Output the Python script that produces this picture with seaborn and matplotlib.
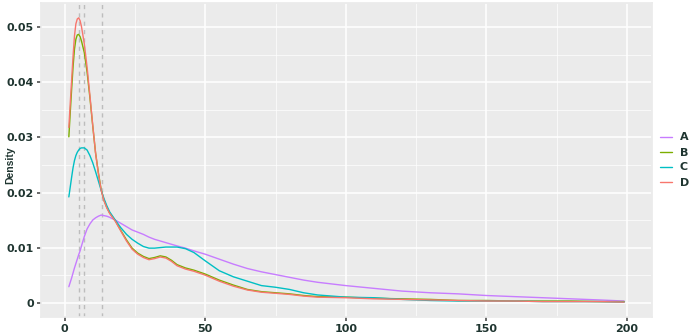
import pandas as pd
import seaborn as sns
import matplotlib.pyplot as plt
from matplotlib.ticker import MultipleLocator

# ==============================
# Values (density curves per group)
# ==============================
x_grid = [1.5, 2, 2.5, 3, 3.5, 4, 4.5, 5, 5.5, 6, 7, 8, 9, 10, 11, 12, 13, 14, 15, 16,
          18, 20, 22, 24, 26, 28, 30, 32, 34, 36, 38, 40, 43, 46, 50, 55, 60, 65, 70, 75,
          80, 85, 90, 100, 110, 120, 130, 140, 150, 160, 170, 180, 190, 199]

dens_a = [.0029, .0037, .0045, .0054, .0063, .0071, .0079, .0087, .0094, .0103, .0120, .0134,
          .0143, .0150, .0154, .0157, .0159, .0158, .0157, .0155, .0150, .0144, .0138, .0132,
          .0128, .0124, .0119, .0115, .0112, .0109, .0106, .0103, .0099, .0094, .0088, .0079,
          .0070, .0062, .0056, .0051, .0046, .0041, .0037, .0031, .0026, .0021, .0018, .0016,
          .0013, .0011, .0009, .0007, .0005, .0003]

dens_b = [.0301, .0345, .0388, .0428, .0460, .0478, .0486, .0487, .0483, .0475, .0454, .0418,
          .0372, .0321, .0272, .0236, .0205, .0186, .0173, .0163, .0149, .0131, .0114, .0099,
          .0090, .0084, .0080, .0082, .0085, .0083, .0077, .0069, .0063, .0059, .0052, .0041,
          .0032, .0024, .0020, .0018, .0016, .0013, .0011, .0010, .0008, .0007, .0006, .0004,
          .0004, .0003, .0003, .0003, .0002, .0002]

dens_c = [.0192, .0210, .0228, .0245, .0258, .0267, .0273, .0277, .0280, .0281, .0281, .0277,
          .0267, .0254, .0238, .0221, .0204, .0189, .0176, .0165, .0150, .0136, .0124, .0115,
          .0108, .0102, .0099, .0099, .0100, .0101, .0101, .0101, .0098, .0091, .0076, .0058,
          .0047, .0039, .0031, .0028, .0024, .0018, .0014, .0010, .0009, .0006, .0004, .0003,
          .0003, .0003, .0002, .0002, .0002, .0001]

dens_d = [.0318, .0362, .0405, .0447, .0484, .0506, .0515, .0517, .0512, .0501, .0470, .0427,
          .0376, .0322, .0272, .0235, .0204, .0185, .0172, .0162, .0148, .0130, .0112, .0097,
          .0088, .0082, .0078, .0080, .0083, .0081, .0075, .0067, .0061, .0057, .0050, .0039,
          .0030, .0023, .0019, .0017, .0015, .0012, .0010, .0009, .0007, .0006, .0005, .0004,
          .0003, .0003, .0002, .0002, .0002, .0001]

groups = ["A", "B", "C", "D"]
peak_x = [5, 7, 13.4]  # dashed reference lines (modes)

df = pd.concat([
    pd.DataFrame({"x": x_grid, "density": d, "group": g})
    for g, d in zip(groups, [dens_a, dens_b, dens_c, dens_d])
])

# ==============================
# ggplot-like styling
# ==============================
sns.set_theme(style="darkgrid", rc={
    "axes.facecolor": "#EBEBEB",
    "grid.color": "white",
    "axes.edgecolor": "#EBEBEB",
})
plt.rcParams["font.family"] = ["DejaVu Sans"]

palette = {"A": "#C77CFF", "B": "#7CAE00", "C": "#00BFC4", "D": "#F8766D"}
text_col = "#1F3530"

fig, ax = plt.subplots(figsize=(6.91, 3.33), dpi=100)
fig.subplots_adjust(left=41 / 691, right=652 / 691, top=1 - 3 / 333, bottom=1 - 317 / 333)

for px in peak_x:
    ax.axvline(px, color="#BDBDBD", linestyle=(0, (3, 3)), linewidth=1.0, zorder=1)

sns.lineplot(data=df, x="x", y="density", hue="group", palette=palette,
             linewidth=1.0, ax=ax, zorder=2)

ax.set_xlim(-8.4, 208.9)
ax.set_ylim(-0.0026, 0.0544)
ax.xaxis.set_major_locator(MultipleLocator(50))
ax.xaxis.set_minor_locator(MultipleLocator(25))
ax.yaxis.set_major_locator(MultipleLocator(0.01))
ax.yaxis.set_minor_locator(MultipleLocator(0.005))
ax.grid(which="major", color="white", linewidth=1.1)
ax.grid(which="minor", color="white", linewidth=0.5)
ax.yaxis.set_major_formatter(plt.FuncFormatter(lambda v, _: "0" if abs(v) < 1e-9 else f"{v:.2f}"))

ax.tick_params(axis="both", which="major", length=3, color="#555555",
               labelsize=8, labelcolor=text_col, pad=2, left=True, bottom=True)
ax.tick_params(axis="both", which="minor", length=0)
for lab in ax.get_xticklabels() + ax.get_yticklabels():
    lab.set_fontweight("bold")

ax.set_xlabel("")
ax.set_ylabel("Density", fontsize=7.5, fontweight="bold", color=text_col,
              family=["Liberation Sans", "DejaVu Sans"])
ax.yaxis.set_label_coords(-0.042, 0.485)

sns.move_legend(ax, "center left", bbox_to_anchor=(1.0, 0.5), title=None, frameon=False,
                fontsize=8, handlelength=1.1, labelspacing=0.45, borderaxespad=0.3,
                handletextpad=0.7)
for t in ax.get_legend().get_texts():
    t.set_fontweight("bold")
    t.set_color(text_col)

plt.savefig("out.png", dpi=100)
